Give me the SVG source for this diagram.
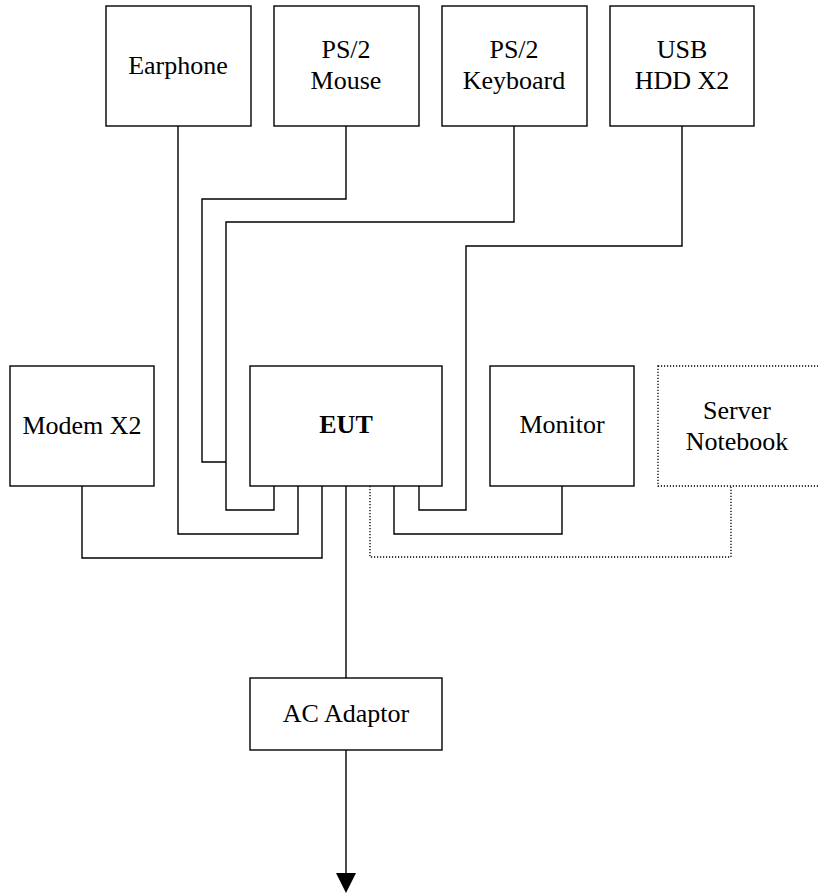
<svg xmlns="http://www.w3.org/2000/svg" width="818" height="893" viewBox="0 0 818 893">
<style>
.box{fill:#fff;stroke:#000;stroke-width:1.4}
.dot{fill:none;stroke:#000;stroke-width:1.3;stroke-dasharray:1.2 1.8}
.ln{fill:none;stroke:#000;stroke-width:1.4}
text{font-family:"Liberation Serif","Times New Roman",serif;font-size:26px;fill:#000;text-anchor:middle}
.b{font-weight:bold}
</style>
<rect width="818" height="893" fill="#fff"/>
<g id="connectors">
<polyline class="ln" points="178,126 178,534 298,534 298,486"/>
<polyline class="ln" points="346,126 346,199 202,199 202,462 226,462"/>
<polyline class="ln" points="514,126 514,222 226,222 226,510 274,510 274,486"/>
<polyline class="ln" points="682,126 682,246 466,246 466,510 419,510 419,486"/>
<polyline class="ln" points="82,486 82,558 322,558 322,486"/>
<polyline class="ln" points="394,486 394,534 562,534 562,486"/>
<polyline class="dot" points="370,486 370,557 731,557 731,486"/>
<line class="ln" x1="346" y1="486" x2="346" y2="678"/>
<line class="ln" x1="346" y1="750" x2="346" y2="875"/>
<polygon points="336,873 356,873 346,893" fill="#000"/>
</g>
<g id="earphone"><rect class="box" x="106" y="6" width="145" height="120"/><text x="178" y="74">Earphone</text></g>
<g id="ps2mouse"><rect class="box" x="274" y="6" width="145" height="120"/><text x="346" y="58">PS/2</text><text x="346" y="89">Mouse</text></g>
<g id="ps2keyboard"><rect class="box" x="442" y="6" width="145" height="120"/><text x="514" y="58">PS/2</text><text x="514" y="89">Keyboard</text></g>
<g id="usbhdd"><rect class="box" x="610" y="6" width="144" height="120"/><text x="682" y="58">USB</text><text x="682" y="89">HDD X2</text></g>
<g id="modem"><rect class="box" x="10" y="366" width="144" height="120"/><text x="82" y="434">Modem X2</text></g>
<g id="eut"><rect class="box" x="250" y="366" width="192" height="120"/><text class="b" x="346" y="433">EUT</text></g>
<g id="monitor"><rect class="box" x="490" y="366" width="144" height="120"/><text x="562" y="433">Monitor</text></g>
<g id="server"><rect class="dot" x="658" y="366" width="170" height="120" fill="#fff"/><text x="737" y="419">Server</text><text x="737" y="450">Notebook</text></g>
<g id="acadaptor"><rect class="box" x="250" y="678" width="192" height="72"/><text x="346" y="722">AC Adaptor</text></g>
</svg>
